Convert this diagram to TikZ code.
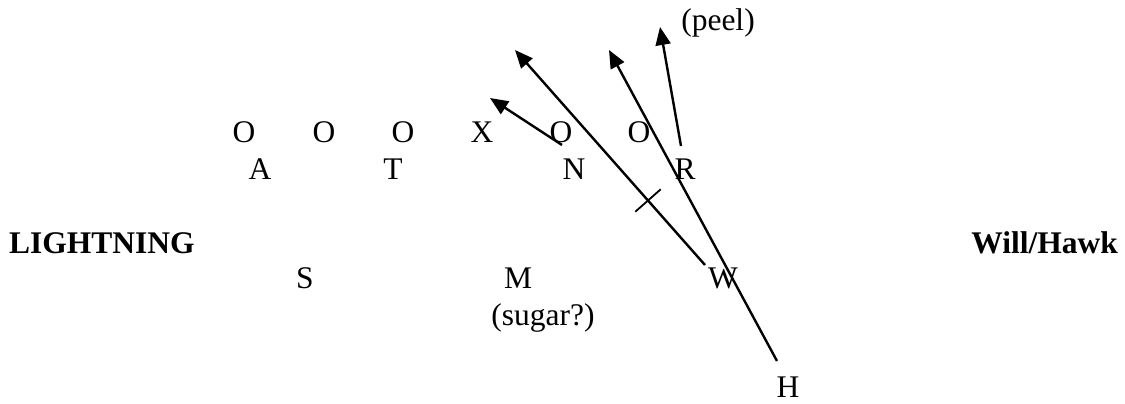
\documentclass[tikz,border=0pt]{standalone}
\usepackage{fontspec}
\setmainfont{Liberation Serif}
\usetikzlibrary{arrows.meta, calc}

\begin{document}
\begin{tikzpicture}[
    x=1pt, y=-1pt,
    every node/.style={font=\fontsize{31.5}{38}\selectfont, inner sep=0pt},
    title/.style={font=\fontsize{31.5}{38}\selectfont\bfseries},
    arr/.style={-{Triangle[length=18pt, width=15pt]}, line width=2.4pt},
    tickmark/.style={line width=1.8pt}
]
\useasboundingbox (0,0) rectangle (1125,404);

\node[title, anchor=west] (play) at (9,243) {LIGHTNING};
\node[title, anchor=east] (call) at (1118,243) {Will/Hawk};

% front
\node (o1) at (244,132) {O};
\node (o2) at (324,132) {O};
\node (o3) at (403,132) {O};
\node (x)  at (482,132) {X};
\node (o4) at (561,132) {O};
\node (o5) at (639,132) {O};
\node (a) at (260,169) {A};
\node (t) at (393,169) {T};
\node (n) at (574,169) {N};
\node (r) at (685,169) {R};

% back
\node (s) at (305,278) {S};
\node (m) at (518,278) {M};
\node (w) at (723,278) {W};
\node (sugar) at (543,318) {(sugar?)};
\node (h) at (788,387) {H};
\node (peel) at (718,23) {(peel)};

% routes
\coordinate (nstart) at (562,145);
\coordinate (ntip) at (490,98);
\coordinate (wstart) at (705,265);
\coordinate (wtip) at (515,50);
\coordinate (hstart) at (777,361);
\coordinate (htip) at (609,50);
\coordinate (rstart) at (681,146);
\coordinate (rtip) at (660,27);

\draw[arr] (nstart) -- (ntip);
\draw[arr] (wstart) -- (wtip);
\draw[arr] (hstart) -- (htip);
\draw[arr] (rstart) -- (rtip);

\coordinate (tick) at ($(wstart)!0.30!(wtip)$);
\draw[tickmark] ($(tick)!17pt!90:(wtip)$) -- ($(tick)!17pt!-90:(wtip)$);
\end{tikzpicture}
\end{document}
